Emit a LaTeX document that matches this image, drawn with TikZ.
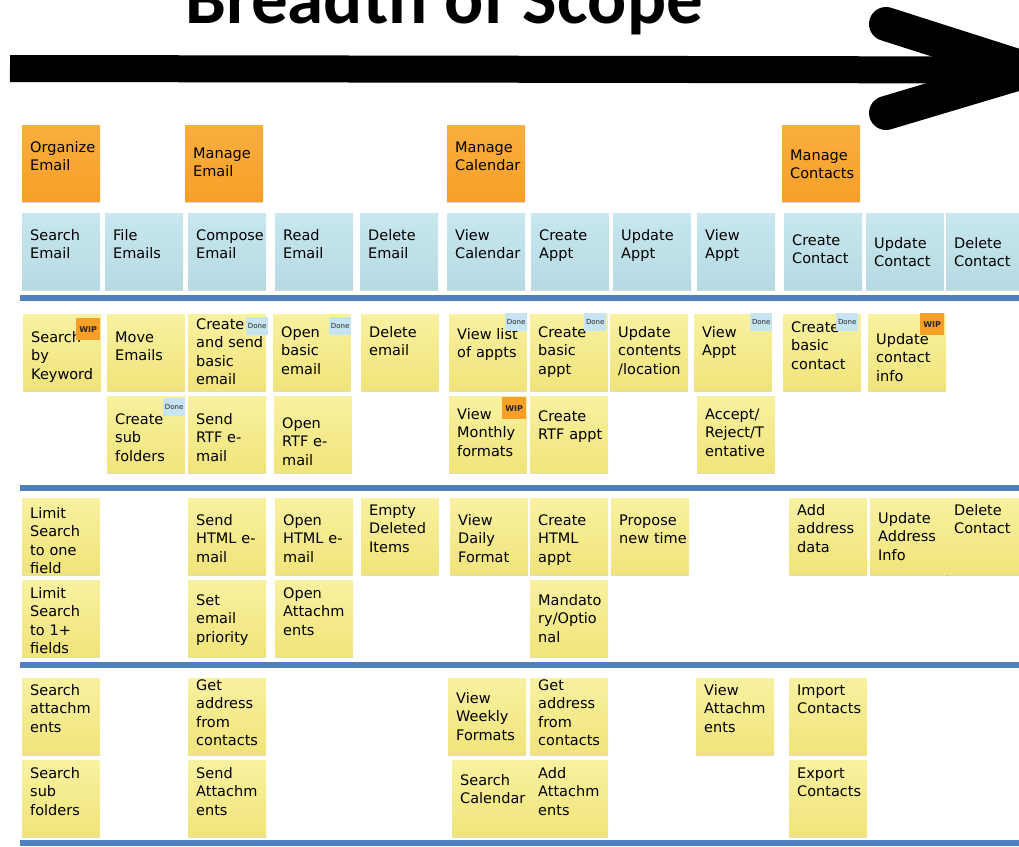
\documentclass[tikz,border=0pt]{standalone}
\usepackage{fontspec}
\usetikzlibrary{shadows}
\newfontfamily\jotfont{DejaVu Sans}
\newfontfamily\headfont{Carlito}
\definecolor{yellowtop}{RGB}{248,241,160}
\definecolor{yellowlow}{RGB}{240,228,122}
\definecolor{bluetop}{RGB}{200,231,238}
\definecolor{bluelow}{RGB}{182,218,228}
\definecolor{orangetop}{RGB}{250,174,62}
\definecolor{orangelow}{RGB}{246,160,40}
\definecolor{doneblue}{RGB}{198,228,242}
\definecolor{wiporange}{RGB}{246,160,40}
\definecolor{laneblue}{RGB}{79,129,189}

\begin{document}
\begin{tikzpicture}
      [x=1pt, y=-1pt,
        sticky/.style={anchor=north west, align=left, inner xsep=8pt, inner ysep=3pt,
          text width=62pt, font=\jotfont\fontsize{14.5}{18.5}\selectfont,
          drop shadow={shadow xshift=0pt, shadow yshift=-2pt, opacity=.3}},
        epic/.style={sticky, top color=orangetop, bottom color=orangelow,
          text height=#1, text depth=70pt-#1},
        epic/.default=24pt,
        feature/.style={sticky, top color=bluetop, bottom color=bluelow,
          text height=#1, text depth=70pt-#1},
        feature/.default=24pt,
        story/.style={sticky, top color=yellowtop, bottom color=yellowlow,
          text height=#1, text depth=70pt-#1},
        story/.default=20pt,
        tag/.style={anchor=north east, inner sep=0pt, text=black!85},
        done/.style={tag, fill=doneblue, minimum width=22pt, minimum height=18pt,
          font=\jotfont\fontsize{7}{8}\selectfont},
        wip/.style={tag, fill=wiporange, minimum width=24pt, minimum height=22pt,
          font=\jotfont\bfseries\fontsize{8}{9}\selectfont},
        lane/.style={fill=laneblue}]
      \useasboundingbox (0,0) rectangle (1019,846);
      \clip (0,0) rectangle (1019,846);

      \node[anchor=base, font=\headfont\bfseries\fontsize{73}{80}\selectfont] (title) at (444,23) {Breadth of Scope};
      \coordinate (tail) at (10,68.5);
      \coordinate (tip) at (1030,70);
      \coordinate (barbUp) at (886,24);
      \coordinate (barbDown) at (886,113);
      \draw[line width=27pt] (tail) -- (tip);
      \draw[line width=34pt, line cap=round, line join=round] (barbUp) -- (tip) -- (barbDown);

      \fill[lane] (20,295) rectangle (1019,301);
      \fill[lane] (20,485) rectangle (1019,491);
      \fill[lane] (20,662) rectangle (1019,668);
      \fill[lane] (20,840) rectangle (1019,846);

      \node[epic] (organize) at (22,125) {Organize\\Email};
      \node[epic=30pt] (manageMail) at (185,125) {Manage\\Email};
      \node[epic] (manageCal) at (447,125) {Manage\\Calendar};
      \node[epic=32pt] (manageCont) at (782,125) {Manage\\Contacts};

      \node[feature] (searchMail) at (22,213) {Search\\Email};
      \node[feature] (fileMail) at (105,213) {File\\Emails};
      \node[feature] (composeMail) at (188,213) {Compose\\Email};
      \node[feature] (readMail) at (275,213) {Read\\Email};
      \node[feature] (deleteMail) at (360,213) {Delete\\Email};
      \node[feature] (viewCal) at (447,213) {View\\Calendar};
      \node[feature] (createAppt) at (531,213) {Create\\Appt};
      \node[feature] (updateAppt) at (613,213) {Update\\Appt};
      \node[feature] (viewAppt) at (697,213) {View\\Appt};
      \node[feature=29pt] (createCont) at (784,213) {Create\\Contact};
      \node[feature=32pt] (updateCont) at (866,213) {Update\\Contact};
      \node[feature=32pt] (deleteCont) at (946,213) {Delete\\Contact};

      \node[story=25pt] (keyword) at (23,314) {Search\\by\\Keyword};
      \node[story=25pt] (moveMail) at (107,314) {Move\\Emails};
      \node[story=12pt] (sendBasic) at (188,314) {Create\\and~send\\basic\\email};
      \node[story] (openBasic) at (273,314) {Open\\basic\\email};
      \node[story] (deleteBasic) at (361,314) {Delete\\email};
      \node[story=22pt] (listAppts) at (449,314) {View~list\\of~appts};
      \node[story] (basicAppt) at (530,314) {Create\\basic\\appt};
      \node[story] (contents) at (610,314) {Update\\contents\\/location};
      \node[story] (viewBasic) at (694,314) {View\\Appt};
      \node[story=15pt] (basicCont) at (783,314) {Create\\basic\\contact};
      \node[story=27pt] (contactInfo) at (868,314) {Update\\contact\\info};

      \node[story=25pt] (subFolders) at (107,396) {Create\\sub\\folders};
      \node[story=25pt] (sendRtf) at (188,396) {Send\\RTF~e-\\mail};
      \node[story=29pt] (openRtf) at (274,396) {Open\\RTF~e-\\mail};
      \node[story] (monthly) at (449,396) {View\\Monthly\\formats};
      \node[story=22pt] (rtfAppt) at (530,396) {Create\\RTF~appt};
      \node[story] (accept) at (697,396) {Accept/\\Reject/T\\entative};

      \node[story=17pt] (oneField) at (22,498) {Limit\\Search\\to~one\\field};
      \node[story=24pt] (sendHtml) at (188,498) {Send\\HTML~e-\\mail};
      \node[story=24pt] (openHtml) at (275,498) {Open\\HTML~e-\\mail};
      \node[story=14pt] (emptyDeleted) at (361,498) {Empty\\Deleted\\Items};
      \node[story=24pt] (daily) at (450,498) {View\\Daily\\Format};
      \node[story=24pt] (htmlAppt) at (530,498) {Create\\HTML\\appt};
      \node[story=24pt] (propose) at (611,498) {Propose\\new~time};
      \node[story=14pt] (addrData) at (789,498) {Add\\address\\data};
      \node[story=22pt] (addrInfo) at (870,498) {Update\\Address\\Info};
      \node[story=14pt] (deleteAddr) at (946,498) {Delete\\Contact};

      \node[story=15pt] (manyFields) at (22,580) {Limit\\Search\\to~1+\\fields};
      \node[story=22pt] (priority) at (188,580) {Set\\email\\priority};
      \node[story=15pt] (openAttach) at (275,580) {Open\\Attachm\\ents};
      \node[story=22pt] (mandatory) at (530,580) {Mandato\\ry/Optio\\nal};

      \node[story=14pt] (searchAttach) at (22,678) {Search\\attachm\\ents};
      \node[story=9pt] (getAddrMail) at (188,678) {Get\\address\\from\\contacts};
      \node[story=22pt] (weekly) at (448,678) {View\\Weekly\\Formats};
      \node[story=9pt] (getAddrAppt) at (530,678) {Get\\address\\from\\contacts};
      \node[story=14pt] (viewAttach) at (696,678) {View\\Attachm\\ents};
      \node[story=14pt] (importCont) at (789,678) {Import\\Contacts};

      \node[story=15pt] (searchSub) at (22,760) {Search\\sub\\folders};
      \node[story=15pt] (sendAttach) at (188,760) {Send\\Attachm\\ents};
      \node[story=22pt] (searchCal) at (452,760) {Search\\Calendar};
      \node[story=15pt] (addAttach) at (530,760) {Add\\Attachm\\ents};
      \node[story=15pt] (exportCont) at (789,760) {Export\\Contacts};

      \node[wip] (keywordTag) at ([xshift=-1pt, yshift=-4pt]keyword.north east) {WIP};
      \node[done] (sendBasicTag) at ([xshift=2pt, yshift=-3pt]sendBasic.north east) {Done};
      \node[done] (openBasicTag) at ([yshift=-3pt]openBasic.north east) {Done};
      \node[done] (subFoldersTag) at ([yshift=-2pt]subFolders.north east) {Done};
      \node[done] (listApptsTag) at ([yshift=1pt]listAppts.north east) {Done};
      \node[done] (basicApptTag) at ([xshift=-2pt, yshift=1pt]basicAppt.north east) {Done};
      \node[done] (viewBasicTag) at ([yshift=1pt]viewBasic.north east) {Done};
      \node[done] (basicContTag) at ([xshift=-3pt, yshift=1pt]basicCont.north east) {Done};
      \node[wip] (contactInfoTag) at ([xshift=-2pt, yshift=1pt]contactInfo.north east) {WIP};
      \node[wip] (monthlyTag) at ([xshift=-1pt, yshift=-1pt]monthly.north east) {WIP};
    \end{tikzpicture}
\end{document}
